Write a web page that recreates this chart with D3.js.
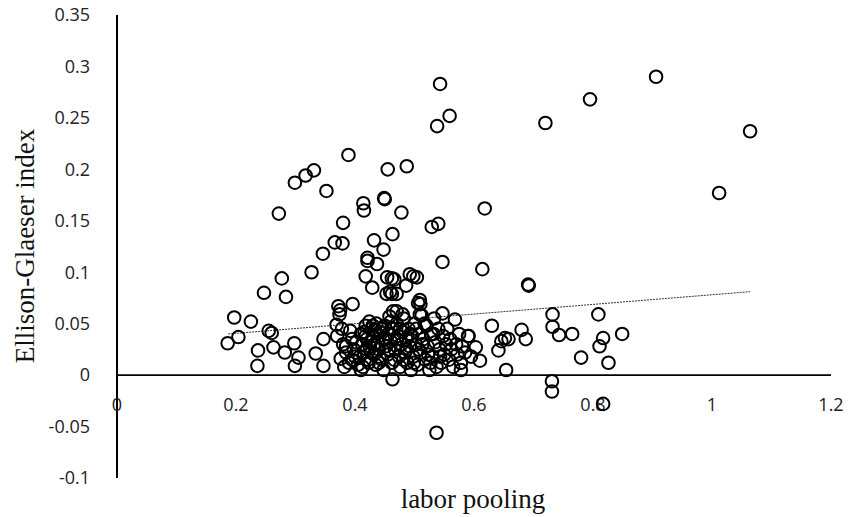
<!DOCTYPE html>
<html><head><meta charset="utf-8">
<script src="https://cdn.jsdelivr.net/npm/d3@7"></script>
<style>body{margin:0;background:#fff}svg{display:block}</style>
</head><body>
<svg id="c" width="848" height="517"></svg>
<script>
const xTicks = [0, 0.2, 0.4, 0.6, 0.8, 1, 1.2];
const xTickLabels = ["0", "0.2", "0.4", "0.6", "0.8", "1", "1.2"];
const yTicks = [0.35, 0.3, 0.25, 0.2, 0.15, 0.1, 0.05, 0, -0.05, -0.1];
const yTickLabels = ["0.35", "0.3", "0.25", "0.2", "0.15", "0.1", "0.05", "0", "-0.05", "-0.1"];
const xTitle = "labor pooling";
const yTitle = "Ellison-Glaeser index";
// labor pooling values
const laborPooling = [
 0.186,0.197,0.204,0.225,0.236,0.237,0.247,0.255,0.26,0.263,0.272,0.277,0.284,0.282,0.298,0.299,0.305,0.299,0.317,0.331,
 0.327,0.334,0.347,0.347,0.346,0.352,0.366,0.379,0.38,0.389,0.396,0.414,0.415,0.418,0.421,0.421,0.429,0.432,0.437,0.448,
 0.449,0.45,0.455,0.459,0.463,0.454,0.462,0.466,0.462,0.47,0.478,0.486,0.487,0.492,0.498,0.504,0.529,0.54,0.538,0.543,
 0.559,0.547,0.537,0.614,0.618,0.63,0.691,0.692,0.72,0.795,0.906,1.012,1.064,
 0.646,0.652,0.658,0.641,0.68,0.687,0.654,0.732,0.732,0.743,0.765,0.78,0.809,0.817,0.811,0.826,0.849,0.731,0.731,0.817,
 0.61,0.603,0.591,0.568,0.547,0.51,0.453,0.506,0.464,0.48,0.509,0.509,
 0.372,0.375,0.374,0.369,0.378,0.37,0.38,0.385,0.376,0.39,0.382,0.395,0.398,0.392,0.4,0.405,
 0.41,0.412,0.415,0.418,0.42,0.422,0.425,0.428,0.43,0.432,0.435,0.436,0.438,0.44,0.442,0.445,0.447,0.448,0.45,0.452,
 0.455,0.41,0.42,0.427,0.433,0.44,0.424,0.416,0.43,
 0.456,0.458,0.46,0.462,0.463,0.465,0.467,0.47,0.472,0.474,0.476,0.478,0.48,0.482,0.484,0.486,0.488,0.49,0.492,0.494,
 0.496,0.498,0.5,0.46,0.47,
 0.502,0.505,0.508,0.51,0.512,0.515,0.518,0.52,0.522,0.525,0.528,0.53,0.533,0.535,0.537,0.54,0.542,0.545,0.548,0.55,
 0.553,0.555,0.558,0.56,0.562,0.565,0.57,0.572,0.575,0.578,0.58,0.585,0.59,0.595,0.578,
 0.385,0.395,0.402,0.408,0.413,0.418,0.423,0.428,0.433,0.437,0.441,0.446,0.451,0.457,0.461,0.466,0.471,0.476,0.481,0.487,
 0.493,0.499,0.503,0.507,0.513,0.517,0.523,0.527,0.532,0.543
];
// Ellison-Glaeser index values
const egIndex = [
 0.031,0.056,0.037,0.052,0.009,0.024,0.08,0.043,0.041,0.027,0.157,0.094,0.076,0.022,0.031,0.009,0.017,0.187,0.194,0.199,
 0.1,0.021,0.035,0.009,0.118,0.179,0.129,0.128,0.148,0.214,0.069,0.167,0.16,0.096,0.114,0.111,0.085,0.131,0.108,0.122,
 0.172,0.171,0.2,0.081,0.137,0.095,0.094,0.093,0.079,0.079,0.158,0.087,0.203,0.098,0.096,0.095,0.144,0.147,0.242,0.283,
 0.252,0.11,-0.056,0.103,0.162,0.048,0.088,0.087,0.245,0.268,0.29,0.177,0.237,
 0.033,0.036,0.035,0.024,0.044,0.035,0.005,0.059,0.047,0.039,0.04,0.017,0.059,0.036,0.028,0.012,0.04,-0.006,-0.016,-0.028,
 0.014,0.027,0.038,0.054,0.06,0.069,0.079,0.07,0.062,0.059,0.059,0.073,
 0.067,0.063,0.059,0.049,0.045,0.038,0.03,0.022,0.016,0.012,0.008,0.035,0.025,0.043,0.018,0.01,
 0.04,0.03,0.022,0.048,0.035,0.015,0.028,0.045,0.038,0.02,0.01,0.05,0.032,0.025,0.042,0.015,0.035,0.005,0.048,0.028,
 0.02,0.005,0.025,0.033,0.044,0.012,0.052,0.042,0.048,
 0.04,0.057,0.033,0.012,-0.004,0.045,0.025,0.05,0.038,0.018,0.008,0.03,0.042,0.055,0.022,0.035,0.012,0.045,0.028,0.005,
 0.038,0.018,0.05,0.052,0.062,
 0.03,0.01,0.04,0.022,0.058,0.035,0.015,0.048,0.028,0.005,0.04,0.018,0.055,0.032,0.008,0.045,0.025,0.012,0.038,0.02,
 0.03,0.045,0.015,0.035,0.025,0.008,0.03,0.02,0.04,0.012,0.028,0.022,0.038,0.018,0.005,
 0.028,0.015,0.032,0.018,0.008,0.038,0.012,0.022,0.03,0.04,0.018,0.045,0.035,0.025,0.045,0.015,0.035,0.045,0.015,0.025,
 0.04,0.012,0.045,0.025,0.03,0.05,0.02,0.012,0.04,0.018
];
// linear trend line (fitted)
const trendX = [0.187, 1.064];
const trendIntercept = 0.0312;
const trendSlope = 0.0469;

const svg = d3.select("#c");
const x = d3.scaleLinear().domain([0, 1.2]).range([117, 831]);
const y = d3.scaleLinear().domain([-0.1, 0.35]).range([478, 15]);

// axes lines
svg.append("line").attr("x1", x(0)).attr("x2", x(0)).attr("y1", y(0.35)).attr("y2", y(-0.1))
  .attr("stroke", "#000").attr("stroke-width", 2);
svg.append("line").attr("x1", x(0)).attr("x2", x(1.2)).attr("y1", y(0)).attr("y2", y(0))
  .attr("stroke", "#000").attr("stroke-width", 1.6);

// tick labels
svg.selectAll("text.yt").data(yTicks).enter().append("text").attr("class", "yt")
  .attr("x", 90).attr("y", d => y(d)).attr("dy", "0.35em").attr("text-anchor", "end")
  .attr("font-family", "'Open Sans', sans-serif").attr("font-size", 18).attr("fill", "#222")
  .text((d, i) => yTickLabels[i]);
svg.selectAll("text.xt").data(xTicks).enter().append("text").attr("class", "xt")
  .attr("x", d => x(d)).attr("y", y(0) + 30).attr("dy", "0.35em").attr("text-anchor", "middle")
  .attr("font-family", "'Open Sans', sans-serif").attr("font-size", 18).attr("fill", "#222")
  .text((d, i) => xTickLabels[i]);

// titles
svg.append("text").attr("x", 473).attr("y", 508).attr("text-anchor", "middle")
  .attr("font-family", "'Liberation Serif', 'Times New Roman', serif").attr("font-size", 27).attr("fill", "#111")
  .text(xTitle);
svg.append("text").attr("transform", "translate(34,246) rotate(-90)").attr("text-anchor", "middle")
  .attr("font-family", "'Liberation Serif', 'Times New Roman', serif").attr("font-size", 27).attr("fill", "#111")
  .text(yTitle);

// trend line
svg.append("line")
  .attr("x1", x(trendX[0])).attr("y1", y(trendIntercept + trendSlope * trendX[0]))
  .attr("x2", x(trendX[1])).attr("y2", y(trendIntercept + trendSlope * trendX[1]))
  .attr("stroke", "#333").attr("stroke-width", 1).attr("stroke-dasharray", "2,1");

// points
const pts = laborPooling.map((v, i) => [v, egIndex[i]]);
svg.append("g").selectAll("circle").data(pts).enter().append("circle")
  .attr("cx", d => x(d[0])).attr("cy", d => y(d[1])).attr("r", 6.3)
  .attr("fill", "none").attr("stroke", "#000").attr("stroke-width", 2);
</script>
</body></html>
